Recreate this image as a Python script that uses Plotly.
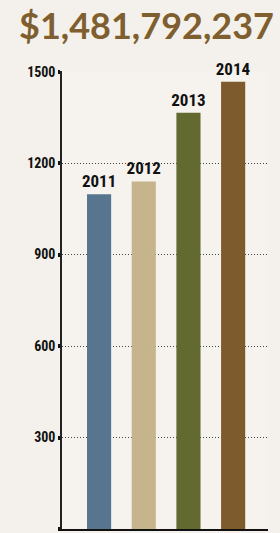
import plotly.graph_objects as go

years = ["2011", "2012", "2013", "2014"]
values = [1098, 1140, 1365, 1467]
colors = ["#58758f", "#c6b48c", "#636a2f", "#7d5b2d"]
y_ticks = [0, 300, 600, 900, 1200, 1500]
title_text = "$1,481,792,237"

cond = "Liberation Sans Narrow, Roboto Condensed, DejaVu Sans Condensed, sans-serif"

fig = go.Figure(go.Bar(
    x=years, y=values, marker_color=colors, marker_line_width=0,
    text=years, textposition="outside", cliponaxis=False, constraintext="none",
    textfont=dict(family=cond, size=17, color="#111111", weight=700),
    hoverinfo="skip",
))

fig.update_layout(
    width=280, height=533,
    margin=dict(l=62, r=12, t=71, b=4),
    paper_bgcolor="#f4f1ec", plot_bgcolor="#f6f3ef",
    bargap=0.46, showlegend=False,
    annotations=[dict(
        text="<b>" + title_text + "</b>", xref="paper", yref="paper",
        x=0.41, y=1.0, yshift=46, xanchor="center", yanchor="middle",
        showarrow=False, font=dict(family="Lato, Open Sans, sans-serif", size=36, color="#7f5f2f"),
    )],
)
fig.update_xaxes(
    type="category", range=[-0.83, 3.78], showticklabels=False, ticks="",
    showgrid=False, showline=True, linecolor="#111111", linewidth=2, zeroline=False,
    automargin=False,
)
fig.update_yaxes(
    range=[0, 1502], tickvals=y_ticks, ticktext=[str(v) for v in y_ticks],
    showgrid=True, gridcolor="#444444", griddash="1px,2px", gridwidth=1,
    showline=True, linecolor="#222222", linewidth=1.5, zeroline=False,
    ticks="outside", ticklen=2, tickwidth=4, tickcolor="#111111",
    tickfont=dict(family=cond, size=14, color="#111111", weight=700),
    automargin=False,
)
fig.write_html("out.html", config={"displayModeBar": False},
               post_script="document.body.style.margin='0';document.body.style.overflow='hidden';")
